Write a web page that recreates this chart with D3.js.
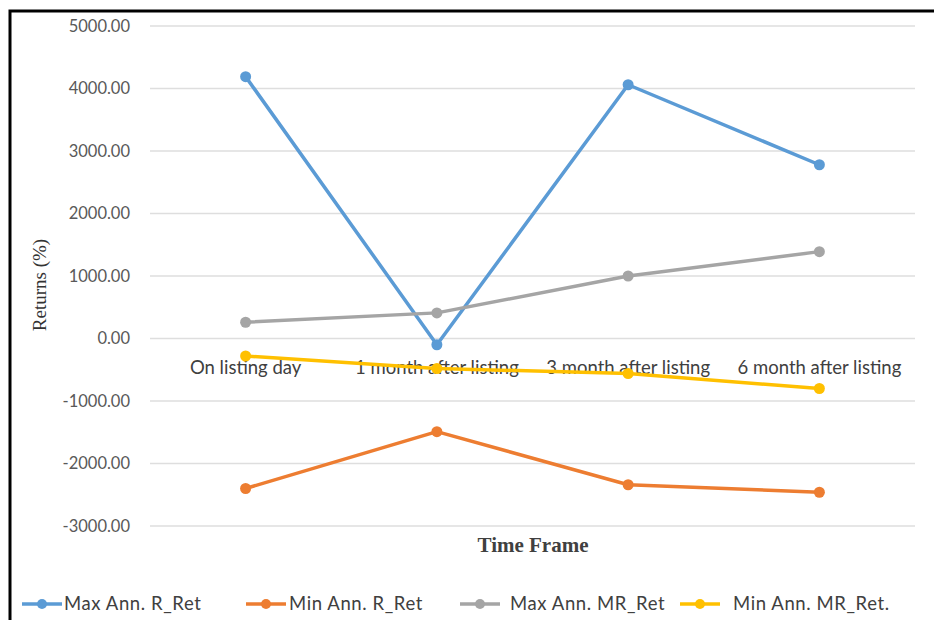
<!DOCTYPE html>
<html>
<head>
<meta charset="utf-8">
<script src="https://cdn.jsdelivr.net/npm/d3@7"></script>
<style>
  html, body { margin: 0; padding: 0; background: #fff; }
  svg { display: block; }
</style>
</head>
<body>
<svg id="chart" width="934" height="620"></svg>
<script>
// Time frames after listing
const categories = ["On listing day", "1 month after listing", "3 month after listing", "6 month after listing"];

// Returns (%) per series
const maxAnnRRet  = [4190, -100, 4060, 2780];
const minAnnRRet  = [-2400, -1490, -2340, -2460];
const maxAnnMRRet = [260, 410, 1000, 1390];
const minAnnMRRet = [-280, -480, -560, -800];

const seriesNames = ["Max Ann. R_Ret", "Min Ann. R_Ret", "Max Ann. MR_Ret", "Min Ann. MR_Ret."];
const yTicks = [-3000, -2000, -1000, 0, 1000, 2000, 3000, 4000, 5000];

const series = [
  { name: seriesNames[0], values: maxAnnRRet,  color: "#5B9BD5" },
  { name: seriesNames[1], values: minAnnRRet,  color: "#ED7D31" },
  { name: seriesNames[2], values: maxAnnMRRet, color: "#A5A5A5" },
  { name: seriesNames[3], values: minAnnMRRet, color: "#FFC000" }
];

const svg = d3.select("#chart");
const W = 934, H = 620;

// outer frame
svg.append("rect")
  .attr("x", 10).attr("y", 11)
  .attr("width", W + 20).attr("height", H + 20)
  .attr("fill", "#fff").attr("stroke", "#000").attr("stroke-width", 3);

const plot = { left: 150, right: 915, top: 26, bottom: 526 };

const x = d3.scaleBand().domain(categories).range([plot.left, plot.right]);
const y = d3.scaleLinear().domain([-3000, 5000]).range([plot.bottom, plot.top]);

const fontSans = "Lato, 'Open Sans', sans-serif";
// two decimals, plain hyphen for negatives
const fmt = d => d3.format(".2f")(d).replace("\u2212", "-");

// horizontal gridlines
svg.append("g").selectAll("line").data(yTicks).join("line")
  .attr("x1", plot.left).attr("x2", plot.right)
  .attr("y1", d => y(d)).attr("y2", d => y(d))
  .attr("stroke", "#dedede").attr("stroke-width", 1.5);

// y axis tick labels
const yAxis = d3.axisLeft(y).tickValues(yTicks).tickFormat(fmt).tickSize(0).tickPadding(20);
const gy = svg.append("g").attr("transform", `translate(${plot.left},0)`).call(yAxis);
gy.select(".domain").remove();
gy.selectAll("text")
  .attr("fill", "#595959").style("font-family", fontSans).style("font-size", "16.5px");

// category labels sit just under the zero line
const xAxis = d3.axisBottom(x).tickSize(0).tickPadding(22);
const gx = svg.append("g").attr("transform", `translate(0,${y(0)})`).call(xAxis);
gx.select(".domain").remove();
gx.selectAll("text")
  .attr("fill", "#404040").style("font-family", fontSans).style("font-size", "18.5px");

// axis titles
svg.append("text")
  .attr("transform", `translate(46,285) rotate(-90)`)
  .attr("text-anchor", "middle")
  .style("font-family", "'Liberation Serif', 'DejaVu Serif', serif")
  .style("font-size", "19px")
  .attr("fill", "#333")
  .text("Returns (%)");

svg.append("text")
  .attr("x", 533).attr("y", 552)
  .attr("text-anchor", "middle")
  .style("font-family", "'Liberation Serif', 'DejaVu Serif', serif")
  .style("font-size", "21px").style("font-weight", "bold")
  .attr("fill", "#404040")
  .text("Time Frame");

// lines and markers
const line = d3.line()
  .x((d, i) => x(categories[i]) + x.bandwidth() / 2)
  .y(d => y(d));

const gs = svg.append("g").selectAll("g").data(series).join("g");
gs.append("path")
  .attr("d", d => line(d.values))
  .attr("fill", "none")
  .attr("stroke", d => d.color)
  .attr("stroke-width", 3.5)
  .attr("stroke-linejoin", "round");
gs.selectAll("circle").data(d => d.values.map((v, i) => ({ v, i, color: d.color }))).join("circle")
  .attr("cx", d => x(categories[d.i]) + x.bandwidth() / 2)
  .attr("cy", d => y(d.v))
  .attr("r", 5.5)
  .attr("fill", d => d.color);

// legend: swatch start and label start for each entry
const legendX = [22, 246, 460, 680];
const legendTextX = [64, 289, 510, 733];
const lg = svg.append("g").selectAll("g").data(series).join("g");
lg.append("line")
  .attr("x1", (d, i) => legendX[i]).attr("x2", (d, i) => legendX[i] + 40)
  .attr("y1", 604).attr("y2", 604)
  .attr("stroke", d => d.color).attr("stroke-width", 3.5);
lg.append("circle")
  .attr("cx", (d, i) => legendX[i] + 20).attr("cy", 604)
  .attr("r", 5).attr("fill", d => d.color);
lg.append("text")
  .attr("x", (d, i) => legendTextX[i]).attr("y", 610)
  .attr("fill", "#404040")
  .style("font-family", fontSans).style("font-size", "18.5px")
  .style("letter-spacing", "0.6px")
  .text(d => d.name);
</script>
</body>
</html>
